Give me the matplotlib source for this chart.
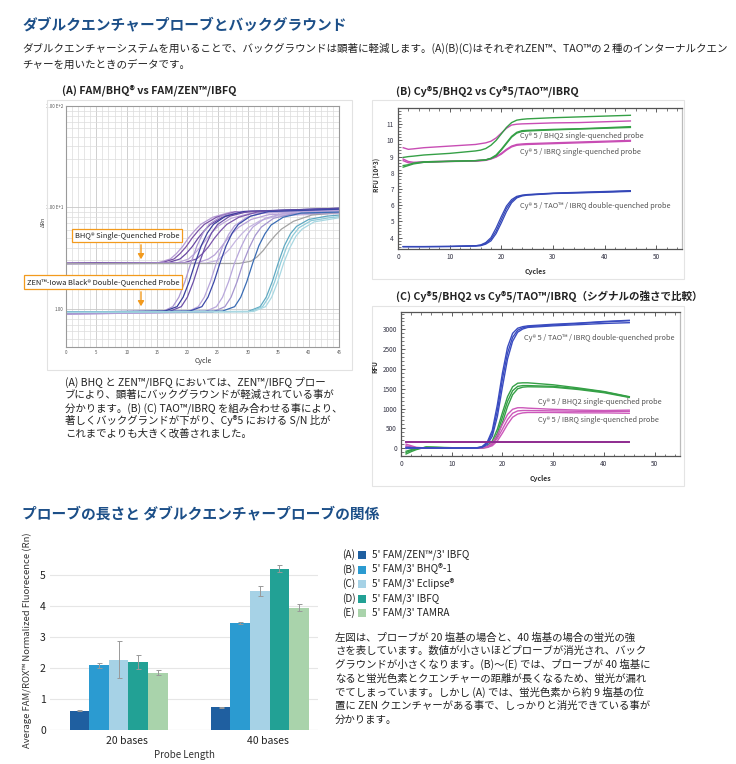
import matplotlib
matplotlib.use('Agg')
import matplotlib.pyplot as plt
from matplotlib.patches import Rectangle, FancyArrowPatch
from matplotlib.ticker import MultipleLocator, FixedLocator, NullFormatter, FixedFormatter, LogLocator

plt.rcParams['font.family'] = ['Noto Sans CJK JP', 'DejaVu Sans']

# ---------------- data ----------------
# Panel A (log scale, delta Rn) : ZEN double-quenched curves
zenA_colors = ['#ab97d2', '#3a3d9c', '#6c50a8', '#b7a5da', '#3c48a8', '#b9a8dc', '#a595cf', '#3a6cb4', '#5fa9c2', '#8ecbd9', '#a9d8e2']
zenA_cycles = [
    [0, 15.6, 17.6, 18.6, 19.6, 20.6, 21.6, 22.6, 23.6, 25.6, 28.6, 45],
    [0, 16.3, 18.3, 19.3, 20.3, 21.3, 22.3, 23.3, 24.3, 26.3, 29.3, 45],
    [0, 17.0, 19.0, 20.0, 21.0, 22.0, 23.0, 24.0, 25.0, 27.0, 30.0, 45],
    [0, 19.8, 21.8, 22.8, 23.8, 24.8, 25.8, 26.8, 27.8, 29.8, 32.8, 45],
    [0, 20.4, 22.4, 23.4, 24.4, 25.4, 26.4, 27.4, 28.4, 30.4, 33.4, 45],
    [0, 22.8, 24.8, 25.8, 26.8, 27.8, 28.8, 29.8, 30.8, 32.8, 35.8, 45],
    [0, 24.2, 26.2, 27.2, 28.2, 29.2, 30.2, 31.2, 32.2, 34.2, 37.2, 45],
    [0, 25.8, 27.8, 28.8, 29.8, 30.8, 31.8, 32.8, 33.8, 35.8, 38.8, 45],
    [0, 30.0, 32.0, 33.0, 34.0, 35.0, 36.0, 37.0, 38.0, 40.0, 43.0, 45],
    [0, 30.4, 32.4, 33.4, 34.4, 35.4, 36.4, 37.4, 38.4, 40.4, 43.4, 45],
    [0, 30.9, 32.9, 33.9, 34.9, 35.9, 36.9, 37.9, 38.9, 40.9, 43.9, 45],
]
zenA_values = [
    [0.88, 0.92, 1.05, 1.3, 1.85, 2.85, 4.2, 5.6, 6.8, 8.2, 9.1, 9.8],
    [0.93, 0.95, 1.05, 1.3, 1.85, 2.85, 4.2, 5.6, 6.8, 8.2, 9.1, 9.8],
    [0.92, 0.94, 1.05, 1.3, 1.85, 2.85, 4.2, 5.6, 6.8, 8.2, 9.1, 9.7],
    [0.89, 0.92, 1.05, 1.3, 1.85, 2.85, 4.1, 5.4, 6.6, 8.0, 8.9, 9.4],
    [0.93, 0.95, 1.05, 1.3, 1.85, 2.85, 4.2, 5.6, 6.8, 8.2, 9.1, 9.6],
    [0.90, 0.93, 1.05, 1.3, 1.85, 2.85, 4.0, 5.3, 6.4, 7.8, 8.7, 9.0],
    [0.90, 0.93, 1.05, 1.3, 1.85, 2.85, 4.0, 5.3, 6.4, 7.8, 8.6, 8.9],
    [0.93, 0.95, 1.05, 1.3, 1.85, 2.85, 4.2, 5.5, 6.7, 8.0, 8.8, 9.0],
    [0.93, 0.94, 1.05, 1.3, 1.85, 2.85, 4.2, 5.5, 6.5, 7.6, 8.2, 8.4],
    [0.93, 0.94, 1.05, 1.3, 1.85, 2.85, 4.1, 5.3, 6.3, 7.4, 7.9, 8.1],
    [0.92, 0.94, 1.05, 1.3, 1.85, 2.85, 4.0, 5.2, 6.1, 7.2, 7.7, 7.9],
]
# Panel A : BHQ single-quenched curves
bhqA_colors = ['#b69bd4', '#7a52a8', '#6a48a2', '#c0aadc', '#7d58ad', '#b8a2d8', '#c6b6e0', '#a3a3a3']
bhqA_cycles = [
    [0, 15.2, 17.2, 18.2, 19.2, 20.2, 21.2, 22.2, 24.2, 27.2, 45],
    [0, 15.8, 17.8, 18.8, 19.8, 20.8, 21.8, 22.8, 24.8, 27.8, 45],
    [0, 16.8, 18.8, 19.8, 20.8, 21.8, 22.8, 23.8, 25.8, 28.8, 45],
    [0, 18.2, 20.2, 21.2, 22.2, 23.2, 24.2, 25.2, 27.2, 30.2, 45],
    [0, 19.5, 21.5, 22.5, 23.5, 24.5, 25.5, 26.5, 28.5, 31.5, 45],
    [0, 21.5, 23.5, 24.5, 25.5, 26.5, 27.5, 28.5, 30.5, 33.5, 45],
    [0, 23.0, 25.0, 26.0, 27.0, 28.0, 29.0, 30.0, 32.0, 35.0, 45],
    [0, 28.5, 30.5, 31.5, 32.5, 33.5, 34.5, 35.5, 37.5, 40.5, 45],
]
bhqA_values = [
    [2.80, 2.85, 3.1, 3.5, 4.1, 5.0, 5.9, 6.8, 8.0, 9.0, 9.7],
    [2.82, 2.85, 3.1, 3.5, 4.1, 5.0, 5.9, 6.8, 8.0, 9.0, 9.8],
    [2.80, 2.85, 3.1, 3.5, 4.1, 5.0, 5.9, 6.8, 8.0, 9.0, 9.7],
    [2.78, 2.82, 3.1, 3.5, 4.1, 4.9, 5.8, 6.6, 7.8, 8.7, 9.2],
    [2.80, 2.85, 3.1, 3.5, 4.1, 5.0, 5.9, 6.8, 8.0, 9.0, 9.5],
    [2.78, 2.82, 3.1, 3.4, 4.0, 4.8, 5.6, 6.4, 7.6, 8.5, 8.9],
    [2.78, 2.82, 3.0, 3.4, 3.9, 4.7, 5.5, 6.3, 7.4, 8.3, 8.7],
    [2.78, 2.80, 2.95, 3.25, 3.75, 4.5, 5.3, 6.1, 7.3, 8.4, 8.9],
]
zenA_ytick_vals = [1, 10, 100]
zenA_ytick_text = ['1.00', '1.00 E+1', '1.00 E+2']

# Panels B / C : shared cycle grid
cycles_bc = [1, 2, 3, 5, 10, 15, 16, 17, 18, 19, 20, 21, 22, 23, 24, 25, 30, 35, 40, 45]
B_magenta = [
    [9.55, 9.45, 9.48, 9.55, 9.65, 9.75, 9.8, 9.85, 9.95, 10.15, 10.45, 10.75, 10.95, 11.0, 11.02, 11.03, 11.08, 11.1, 11.15, 11.2],
    [8.85, 8.7, 8.65, 8.68, 8.72, 8.75, 8.77, 8.8, 8.88, 9.0, 9.2, 9.45, 9.65, 9.75, 9.78, 9.8, 9.85, 9.9, 9.95, 10.0],
    [8.75, 8.62, 8.6, 8.65, 8.7, 8.72, 8.74, 8.77, 8.85, 8.97, 9.15, 9.4, 9.6, 9.7, 9.73, 9.75, 9.8, 9.85, 9.9, 9.95],
]
B_green = [
    [8.95, 9.0, 9.03, 9.1, 9.2, 9.35, 9.4, 9.5, 9.7, 10.0, 10.4, 10.8, 11.1, 11.25, 11.3, 11.33, 11.4, 11.45, 11.5, 11.55],
    [8.35, 8.45, 8.55, 8.65, 8.7, 8.75, 8.78, 8.8, 8.9, 9.1, 9.45, 9.85, 10.25, 10.5, 10.6, 10.62, 10.68, 10.72, 10.78, 10.85],
    [8.45, 8.5, 8.6, 8.68, 8.72, 8.75, 8.77, 8.8, 8.88, 9.05, 9.4, 9.8, 10.2, 10.45, 10.55, 10.58, 10.65, 10.7, 10.75, 10.8],
]
B_blue = [
    [3.45, 3.45, 3.45, 3.45, 3.46, 3.5, 3.55, 3.7, 4.0, 4.6, 5.3, 5.95, 6.35, 6.55, 6.62, 6.66, 6.75, 6.8, 6.85, 6.9],
    [3.45, 3.45, 3.45, 3.45, 3.46, 3.5, 3.53, 3.65, 3.9, 4.4, 5.1, 5.8, 6.25, 6.5, 6.6, 6.64, 6.73, 6.78, 6.82, 6.88],
    [3.44, 3.44, 3.44, 3.44, 3.45, 3.48, 3.5, 3.6, 3.8, 4.25, 4.9, 5.6, 6.15, 6.45, 6.57, 6.62, 6.72, 6.76, 6.8, 6.85],
]
C_blue = [
    [0, 0, 5, 5, 0, 10, 40, 150, 450, 1100, 1900, 2550, 2900, 3030, 3070, 3090, 3130, 3160, 3200, 3230],
    [20, 15, 10, 5, 0, 5, 30, 120, 380, 950, 1750, 2400, 2800, 2980, 3040, 3070, 3110, 3150, 3190, 3220],
    [-10, 0, 5, 0, 0, 0, 20, 90, 300, 800, 1550, 2250, 2700, 2930, 3010, 3050, 3090, 3120, 3150, 3170],
]
C_green = [
    [-150, -90, -40, 30, 10, 0, 10, 50, 180, 480, 900, 1300, 1550, 1640, 1650, 1650, 1600, 1520, 1430, 1300],
    [-110, -60, -20, 20, 5, 0, 5, 30, 120, 380, 780, 1180, 1450, 1560, 1580, 1580, 1560, 1500, 1420, 1290],
    [-80, -40, -10, 20, 5, 0, 5, 20, 90, 300, 650, 1050, 1350, 1500, 1540, 1550, 1540, 1480, 1400, 1280],
]
C_magenta = [
    [100, 60, 20, 0, 0, 0, 10, 40, 130, 330, 600, 850, 980, 1020, 1020, 1010, 980, 960, 950, 960],
    [60, 30, 10, 0, 0, 0, 5, 25, 90, 250, 480, 720, 880, 940, 950, 950, 940, 930, 930, 930],
    [30, 15, 5, 0, 0, 0, 5, 15, 60, 180, 380, 600, 780, 860, 890, 900, 900, 890, 890, 880],
]
C_threshold_cycles = [1, 45]
C_threshold_values = [150, 150]

# Bar chart
bar_groups = ['20 bases', '40 bases']
bar_letters = ['(A)', '(B)', '(C)', '(D)', '(E)']
bar_series = ["5' FAM/ZEN™/3' IBFQ", "5' FAM/3' BHQ®-1", "5' FAM/3' Eclipse®", "5' FAM/3' IBFQ", "5' FAM/3' TAMRA"]
bar_colors = ['#1f5fa0', '#2b9bd1', '#a6d2e6', '#22a195', '#a9d3ab']
bar_20 = [0.62, 2.08, 2.26, 2.20, 1.85]
bar_40 = [0.73, 3.46, 4.48, 5.20, 3.94]
err_20 = [0.02, 0.08, 0.60, 0.22, 0.09]
err_40 = [0.01, 0.03, 0.15, 0.11, 0.12]

# ---------------- figure ----------------
W, H = 736, 764
fig = plt.figure(figsize=(W / 100, H / 100), dpi=100)
TITLE_BLUE = '#1c4f88'


def ax_px(x0, y0, x1, y1):
    return fig.add_axes([x0 / W, 1 - y1 / H, (x1 - x0) / W, (y1 - y0) / H])


def txt(x, y, s, **kw):
    kw.setdefault('va', 'center')
    return fig.text(x / W, 1 - y / H, s, **kw)


def rect_px(x0, y0, x1, y1, **kw):
    r = Rectangle((x0 / W, 1 - y1 / H), (x1 - x0) / W, (y1 - y0) / H,
                  transform=fig.transFigure, **kw)
    fig.add_artist(r)


def arrow_px(x0, y0, x1, y1, color):
    a = FancyArrowPatch((x0 / W, 1 - y0 / H), (x1 / W, 1 - y1 / H), transform=fig.transFigure,
                        arrowstyle='-|>,head_length=3,head_width=1.8', color=color, lw=1.0)
    fig.add_artist(a)


# Header texts
txt(22, 24, 'ダブルクエンチャープローブとバックグラウンド', fontsize=10.6, fontweight='bold', color=TITLE_BLUE)
txt(22, 48, 'ダブルクエンチャーシステムを用いることで、バックグラウンドは顕著に軽減します。(A)(B)(C)はそれぞれZEN™、TAO™の２種のインターナルクエン',
    fontsize=7.58, color='#222222')
txt(22, 65, 'チャーを用いたときのデータです。', fontsize=7.58, color='#222222')

# ---------------- Panel A ----------------
txt(62, 90, '(A) FAM/BHQ® vs FAM/ZEN™/IBFQ', fontsize=7.7, fontweight='bold', color='#222222')
rect_px(47, 100, 352, 370, facecolor='none', edgecolor='#e2e2e2', lw=0.8)
axA = ax_px(66, 106, 339, 347)
axA.set_yscale('log')
axA.set_xlim(0, 45)
axA.set_ylim(0.42, 100)
axA.xaxis.set_major_locator(MultipleLocator(5))
axA.xaxis.set_minor_locator(MultipleLocator(1))
axA.yaxis.set_major_locator(FixedLocator(zenA_ytick_vals))
axA.yaxis.set_major_formatter(FixedFormatter(zenA_ytick_text))
axA.yaxis.set_minor_locator(LogLocator(base=10, subs=[2, 3, 4, 5, 6, 7, 8, 9]))
axA.yaxis.set_minor_formatter(NullFormatter())
axA.grid(which='major', color='#c8c8c8', lw=0.6)
axA.grid(which='minor', color='#dcdcdc', lw=0.5)
axA.tick_params(which='both', length=0, labelsize=3.2, labelcolor='#555555', pad=2)
for s in axA.spines.values():
    s.set_color('#9a9a9a')
    s.set_linewidth(0.8)
for c, v, col in zip(bhqA_cycles, bhqA_values, bhqA_colors):
    axA.plot(c, v, color=col, lw=0.9)
for c, v, col in zip(zenA_cycles, zenA_values, zenA_colors):
    axA.plot(c, v, color=col, lw=0.9)
txt(43, 222, 'ΔRn', fontsize=4, rotation=90, ha='center', color='#444444')
txt(203, 361, 'Cycle', fontsize=5, ha='center', color='#333333')

ORANGE = '#f29a1d'
txt(127, 235.5, 'BHQ® Single-Quenched Probe', fontsize=5.4, ha='center', color='#222222',
    bbox=dict(boxstyle='square,pad=0.35', fc='white', ec=ORANGE, lw=0.9))
txt(103, 282, 'ZEN™-Iowa Black® Double-Quenched Probe', fontsize=5.4, ha='center', color='#222222',
    bbox=dict(boxstyle='square,pad=0.35', fc='white', ec=ORANGE, lw=0.9))
arrow_px(141, 242, 141, 262, ORANGE)
arrow_px(141, 289, 141, 309, ORANGE)

parA = ['(A) BHQ と ZEN™/IBFQ においては、ZEN™/IBFQ プロー',
        'ブにより、顕著にバックグラウンドが軽減されている事が',
        '分かります。(B) (C) TAO™/IBRQ を組み合わせる事により、',
        '著しくバックグランドが下がり、Cy®5 における S/N 比が',
        'これまでよりも大きく改善されました。']
for i, line in enumerate(parA):
    txt(65, 382 + i * 12.9, line, fontsize=7.5, color='#222222')


def style_bc(ax, xmax, ymin, ymax, major_y, minor_y):
    ax.set_xlim(0, xmax)
    ax.set_ylim(ymin, ymax)
    ax.xaxis.set_major_locator(MultipleLocator(10))
    ax.xaxis.set_minor_locator(MultipleLocator(2))
    ax.yaxis.set_major_locator(MultipleLocator(major_y))
    ax.yaxis.set_minor_locator(MultipleLocator(minor_y))
    ax.tick_params(which='both', direction='in', top=True, labelsize=4.6, labelcolor='#334',
                   color='#444444', pad=3)
    ax.tick_params(which='major', length=3, width=0.6)
    ax.tick_params(which='minor', length=1.8, width=0.5)
    for k, s in ax.spines.items():
        s.set_color('#555555' if k != 'right' else '#bbbbbb')
        s.set_linewidth(0.9)


# ---------------- Panel B ----------------
txt(396, 91, '(B) Cy®5/BHQ2 vs Cy®5/TAO™/IBRQ', fontsize=7.7, fontweight='bold', color='#222222')
rect_px(372, 100, 684, 279, facecolor='none', edgecolor='#e4e4e4', lw=0.8)
axB = ax_px(398, 108, 682, 249)
style_bc(axB, 55, 3.3, 12.0, 1, 0.2)
axB.set_yticks([4, 5, 6, 7, 8, 9, 10, 11])
for v in B_magenta:
    axB.plot(cycles_bc, v, color='#c84db4', lw=1.0)
for v in B_green:
    axB.plot(cycles_bc, v, color='#35a046', lw=1.0)
for v in B_blue:
    axB.plot(cycles_bc, v, color='#3447b8', lw=0.9)
LBL = 5.3
txt(520, 136, 'Cy® 5 / BHQ2 single-quenched probe', fontsize=LBL, color='#555555')
txt(520, 152, 'Cy® 5 / IBRQ single-quenched probe', fontsize=LBL, color='#555555')
txt(520, 206, 'Cy® 5 / TAO™ / IBRQ double-quenched probe', fontsize=LBL, color='#555555')
txt(377, 175, 'RFU (10^3)', fontsize=4.6, fontweight='bold', rotation=90, ha='center', color='#333333')
txt(535, 272, 'Cycles', fontsize=5, fontweight='bold', ha='center', color='#333333')

# ---------------- Panel C ----------------
txt(396, 297, '(C) Cy®5/BHQ2 vs Cy®5/TAO™/IBRQ（シグナルの強さで比較）', fontsize=7.6, fontweight='bold', color='#222222')
rect_px(372, 306, 684, 486, facecolor='none', edgecolor='#e4e4e4', lw=0.8)
axC = ax_px(401, 312, 680, 456)
style_bc(axC, 55, -200, 3440, 500, 100)
axC.set_yticks([0, 500, 1000, 1500, 2000, 2500, 3000])
for v in C_green:
    axC.plot(cycles_bc, v, color='#35a046', lw=1.0)
for v in C_magenta:
    axC.plot(cycles_bc, v, color='#cc58ba', lw=1.0)
for v in C_blue:
    axC.plot(cycles_bc, v, color='#3a4cc0', lw=1.0)
axC.plot(C_threshold_cycles, C_threshold_values, color='#8e2b8f', lw=1.4)
txt(524, 338, 'Cy® 5 / TAO™ / IBRQ double-quenched probe', fontsize=LBL, color='#555555')
txt(538, 402, 'Cy® 5 / BHQ2 single-quenched probe', fontsize=LBL, color='#555555')
txt(538, 420, 'Cy® 5 / IBRQ single-quenched probe', fontsize=LBL, color='#555555')
txt(375, 367, 'RFU', fontsize=4.6, fontweight='bold', rotation=90, ha='center', color='#333333')
txt(540, 478, 'Cycles', fontsize=5, fontweight='bold', ha='center', color='#333333')

# ---------------- Bottom section ----------------
txt(22, 513, 'プローブの長さと ダブルクエンチャープローブの関係', fontsize=10.6, fontweight='bold', color=TITLE_BLUE)

axD = ax_px(50, 550, 318, 730)
bw = 0.139
n = len(bar_series)
for i in range(n):
    off = (i - (n - 1) / 2) * bw
    axD.bar([0 + off, 1 + off], [bar_20[i], bar_40[i]], width=bw, color=bar_colors[i],
            yerr=[err_20[i], err_40[i]], error_kw=dict(ecolor='#999999', elinewidth=0.7, capsize=1.8, capthick=0.7),
            zorder=3)
axD.set_xlim(-0.487, 1.413)
axD.set_ylim(0, 5.8)
axD.set_yticks([0, 1, 2, 3, 4, 5])
axD.set_xticks([0.055, 1.055])
axD.set_xticklabels(bar_groups)
axD.tick_params(length=0, labelsize=7.5, labelcolor='#222222', pad=3)
axD.tick_params(axis='x', pad=4)
axD.grid(axis='y', color='#e6e6e6', lw=0.8, zorder=0)
for s in axD.spines.values():
    s.set_visible(False)
axD.axhline(0, color='#dddddd', lw=0.8, zorder=2)
axD.set_xlabel('Probe Length', fontsize=7, color='#333333', labelpad=3)
txt(27, 640, 'Average FAM/ROX™ Normalized Fluorecence (Rn)', fontsize=6.8, rotation=90, ha='center', color='#333333')

# legend
for i in range(n):
    y = 555 + i * 14.5
    txt(342, y, bar_letters[i], fontsize=7.2, color='#222222')
    rect_px(358, y - 4, 366, y + 4, facecolor=bar_colors[i], edgecolor='none')
    txt(372, y, bar_series[i], fontsize=7.2, color='#222222')

parB = ['左図は、プローブが 20 塩基の場合と、40 塩基の場合の蛍光の強',
        'さを表しています。数値が小さいほどプローブが消光され、バック',
        'グラウンドが小さくなります。(B)〜(E) では、プローブが 40 塩基に',
        'なると蛍光色素とクエンチャーの距離が長くなるため、蛍光が漏れ',
        'でてしまっています。しかし (A) では、蛍光色素から約 9 塩基の位',
        '置に ZEN クエンチャーがある事で、しっかりと消光できている事が',
        '分かります。']
for i, line in enumerate(parB):
    txt(335, 637 + i * 13.8, line, fontsize=7.5, color='#222222')

fig.savefig('out.png', dpi=100)
